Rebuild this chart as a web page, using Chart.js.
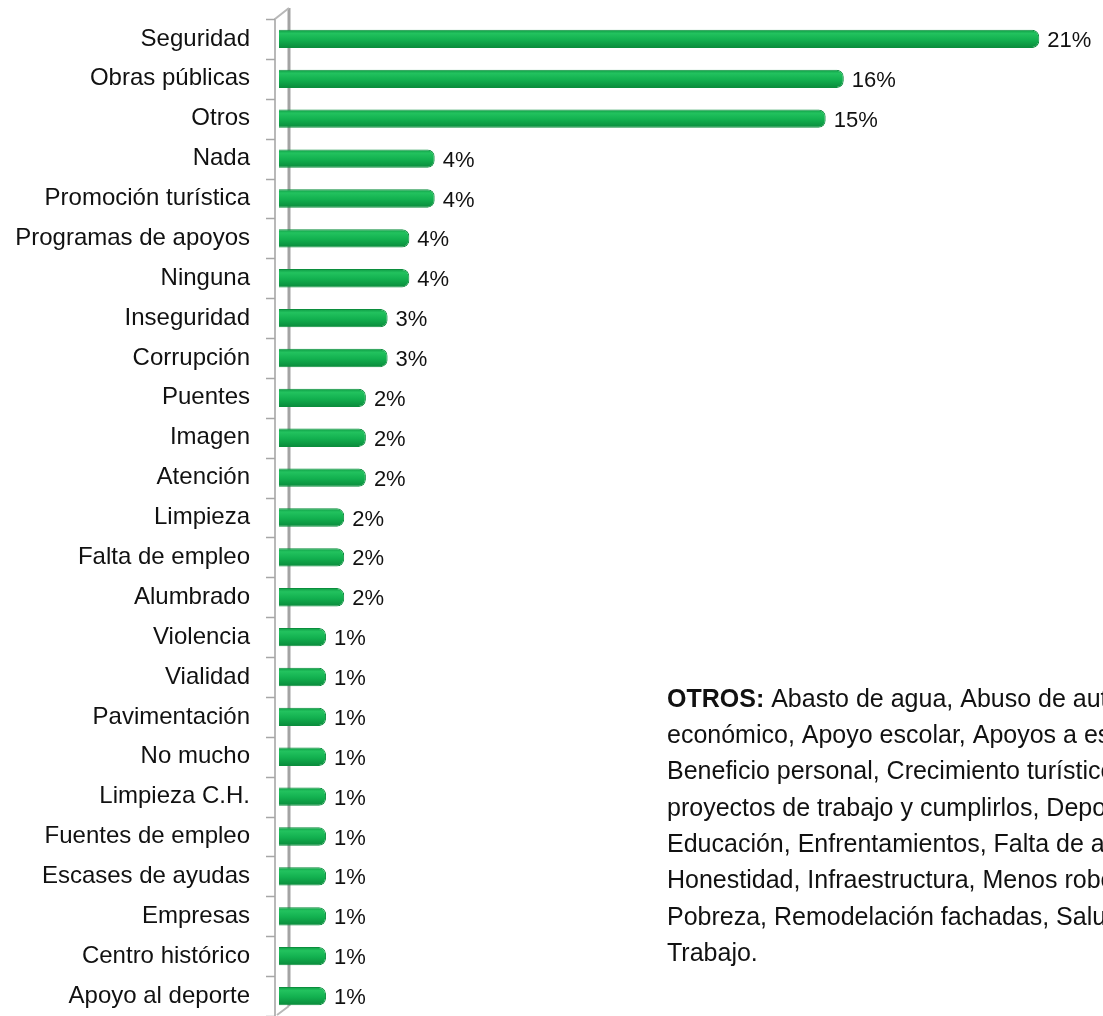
<!DOCTYPE html>
<html>
<head>
<meta charset="utf-8">
<script src="https://cdn.jsdelivr.net/npm/chart.js@4"></script>
<style>
  html, body { margin: 0; padding: 0; background: #fff; }
  #wrap { width: 1103px; height: 1016px; }
</style>
</head>
<body>
<div id="wrap"><canvas id="chart" width="1103" height="1016"></canvas></div>
<script>
// Categories and percentages
const categories = [
    'Seguridad', 'Obras públicas', 'Otros', 'Nada', 'Promoción turística',
    'Programas de apoyos', 'Ninguna', 'Inseguridad', 'Corrupción', 'Puentes',
    'Imagen', 'Atención', 'Limpieza', 'Falta de empleo', 'Alumbrado',
    'Violencia', 'Vialidad', 'Pavimentación', 'No mucho', 'Limpieza C.H.',
    'Fuentes de empleo', 'Escases de ayudas', 'Empresas', 'Centro histórico', 'Apoyo al deporte'
];
const percentages = [
    21.0, 15.6, 15.1, 4.3, 4.3,
    3.6, 3.6, 3.0, 3.0, 2.4,
    2.4, 2.4, 1.8, 1.8, 1.8,
    1.3, 1.3, 1.3, 1.3, 1.3,
    1.3, 1.3, 1.3, 1.3, 1.3
];
const otrosNote = [
    ['OTROS:', ' Abasto de agua, Abuso de autoridad,'],
    ['', 'económico, Apoyo escolar, Apoyos a escuelas,'],
    ['', 'Beneficio personal, Crecimiento turístico,'],
    ['', 'proyectos de trabajo y cumplirlos, Deporte,'],
    ['', 'Educación, Enfrentamientos, Falta de agua,'],
    ['', 'Honestidad, Infraestructura, Menos robos,'],
    ['', 'Pobreza, Remodelación fachadas, Salud,'],
    ['', 'Trabajo.']
];

const FONT = '"Liberation Sans", Arial, sans-serif';
const BAR_PCT = 0.46;

// Green bar with darker top/bottom edges
function barFill(context) {
    if (context.type !== 'data') return '#13ad4e';
    const chart = context.chart;
    const y = chart.scales.y;
    if (!y) return '#13ad4e';
    const c = y.getPixelForValue(context.dataIndex);
    const half = y.height / categories.length * BAR_PCT / 2;
    if (!isFinite(c) || !isFinite(half) || half <= 0) return '#13ad4e';
    const g = chart.ctx.createLinearGradient(0, c - half, 0, c + half);
    g.addColorStop(0, '#0e9a44');
    g.addColorStop(0.2, '#22c25e');
    g.addColorStop(0.55, '#12b04f');
    g.addColorStop(1, '#0a8a3b');
    return g;
}

// Draw the 3D-ish wall, tick marks, value labels and the "OTROS" note
const extras = {
    id: 'extras',
    beforeDatasetsDraw(chart) {
        const { ctx, chartArea } = chart;
        const y = chart.scales.y;
        const front = chartArea.left - 4;
        const back = chartArea.left + 10;
        ctx.save();
        // back wall line
        ctx.strokeStyle = '#a3a3a3';
        ctx.lineWidth = 3;
        ctx.beginPath();
        ctx.moveTo(back, chartArea.top - 11);
        ctx.lineTo(back, chartArea.bottom - 10);
        ctx.stroke();
        // front line with diagonals
        ctx.strokeStyle = '#b8b8b8';
        ctx.lineWidth = 2;
        ctx.beginPath();
        ctx.moveTo(front, chartArea.bottom + 2);
        ctx.lineTo(front, chartArea.top);
        ctx.lineTo(back, chartArea.top - 11);
        ctx.moveTo(back, chartArea.bottom - 10);
        ctx.lineTo(front + 2, chartArea.bottom - 1);
        ctx.stroke();
        // tick marks between categories
        ctx.strokeStyle = '#a6a6a6';
        ctx.lineWidth = 1.5;
        const step = y.height / categories.length;
        for (let i = 0; i <= categories.length; i++) {
            const py = Math.round(y.getPixelForValue(0) - step / 2 + i * step) + 0.5;
            ctx.beginPath();
            ctx.moveTo(front - 9, py);
            ctx.lineTo(front, py);
            ctx.stroke();
        }
        ctx.restore();
    },
    afterDatasetsDraw(chart) {
        const { ctx } = chart;
        const meta = chart.getDatasetMeta(0);
        ctx.save();
        ctx.fillStyle = '#111';
        ctx.font = '22px ' + FONT;
        ctx.textBaseline = 'middle';
        ctx.textAlign = 'left';
        meta.data.forEach((bar, i) => {
            ctx.fillText(Math.round(percentages[i]) + '%', bar.x + 8, bar.y + 2);
        });
        // OTROS note
        const x0 = 667;
        otrosNote.forEach((line, i) => {
            const ly = 700 + i * 36.3;
            let x = x0;
            if (line[0]) {
                ctx.font = 'bold 25px ' + FONT;
                ctx.fillText(line[0], x, ly);
                x += ctx.measureText(line[0]).width;
            }
            ctx.font = '25px ' + FONT;
            ctx.fillText(line[1], x, ly);
        });
        ctx.restore();
    }
};

new Chart(document.getElementById('chart').getContext('2d'), {
    type: 'bar',
    data: {
        labels: categories,
        datasets: [{
            data: percentages,
            backgroundColor: barFill,
            borderColor: '#0b8e3d',
            borderWidth: 1,
            borderSkipped: 'start',
            borderRadius: { topRight: 7, bottomRight: 7 },
            barPercentage: BAR_PCT,
            categoryPercentage: 1
        }]
    },
    options: {
        indexAxis: 'y',
        responsive: false,
        animation: false,
        layout: { padding: { top: 19, bottom: 0, left: 0, right: 0 } },
        plugins: {
            legend: { display: false },
            tooltip: { enabled: false }
        },
        scales: {
            x: {
                display: false,
                min: 0,
                max: 22.76
            },
            y: {
                grid: {
                    display: true,
                    drawOnChartArea: false,
                    drawTicks: true,
                    tickLength: 29,
                    color: 'rgba(0,0,0,0)'
                },
                border: { display: false },
                ticks: {
                    color: '#111',
                    padding: 0,
                    font: { family: FONT, size: 24 }
                },
                afterFit(scale) {
                    scale.width = 279;
                    scale.paddingTop = 0;
                    scale.paddingBottom = 0;
                }
            }
        }
    },
    plugins: [extras]
});
</script>
</body>
</html>
